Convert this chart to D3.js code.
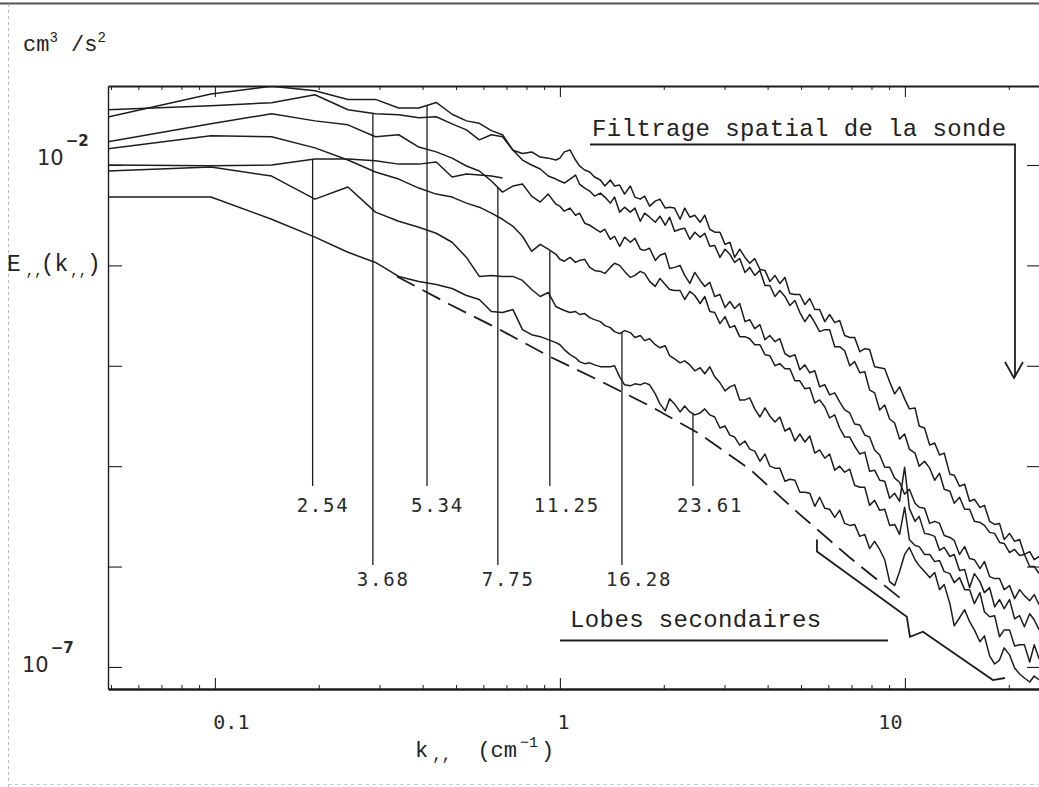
<!DOCTYPE html>
<html><head><meta charset="utf-8">
<script src="https://cdn.jsdelivr.net/npm/d3@7"></script>
<style>
html,body{margin:0;padding:0;background:#fff;}
svg{display:block;}
.mono{font-family:"Liberation Mono","DejaVu Sans Mono",monospace;fill:#222;}
.plot{font-family:"DejaVu Sans Mono","Liberation Mono",monospace;fill:#2a2a2a;}
.sans{font-family:"DejaVu Sans","Liberation Sans",sans-serif;fill:#2a2a2a;}
</style></head>
<body>
<svg id="chart" width="1039" height="787"></svg>
<script>
// Longitudinal energy spectra E(k) [cm^3/s^2] vs wavenumber k [cm^-1], one per run.
// Low wavenumbers: [k, E] pairs at the analysis bins.
const spec_2_54_low = [[0.049,1.0e-2],[0.0974,9.8e-3],[0.146,1.0e-2],[0.195,1.15e-2],[0.243,1.15e-2],[0.292,1.10e-2],[0.341,1.02e-2],[0.390,1.02e-2],[0.438,1.07e-2],[0.487,7.59e-3],[0.536,8.13e-3],[0.584,7.94e-3],[0.633,7.76e-3],[0.682,7.41e-3]];
const spec_3_68_low = [[0.049,3.55e-2],[0.0974,3.89e-2],[0.146,4.17e-2],[0.195,5.01e-2],[0.243,3.55e-2],[0.292,3.24e-2],[0.341,3.16e-2],[0.390,2.95e-2],[0.438,3.02e-2],[0.487,2.57e-2],[0.536,2.24e-2],[0.584,1.78e-2],[0.633,2.0e-2],[0.682,1.91e-2],[0.731,1.41e-2],[0.779,1.12e-2],[0.828,1.0e-2],[0.877,9.12e-3],[0.925,7.76e-3],[0.974,7.24e-3]];
const spec_5_34_low = [[0.049,3.0e-2],[0.0974,5.1e-2],[0.146,6.1e-2],[0.195,5.5e-2],[0.243,4.5e-2],[0.292,4.5e-2],[0.341,3.7e-2],[0.390,3.7e-2],[0.438,4.2e-2],[0.487,3.2e-2],[0.536,2.75e-2],[0.584,2.6e-2],[0.633,2.2e-2],[0.682,2.0e-2],[0.731,1.4e-2],[0.779,1.3e-2],[0.828,1.35e-2],[0.877,1.2e-2],[0.925,1.17e-2],[0.974,1.12e-2]];
const spec_7_75_low = [[0.049,1.70e-2],[0.0974,2.57e-2],[0.146,3.24e-2],[0.195,2.75e-2],[0.243,2.51e-2],[0.292,1.91e-2],[0.341,2.0e-2],[0.390,1.51e-2],[0.438,1.35e-2],[0.487,1.17e-2],[0.536,9.77e-3],[0.584,8.71e-3],[0.633,6.92e-3],[0.682,5.37e-3],[0.731,6.17e-3],[0.779,6.46e-3],[0.828,4.90e-3],[0.877,4.27e-3],[0.925,5.13e-3],[0.974,4.07e-3]];
const spec_11_25_low = [[0.049,1.45e-2],[0.0974,1.95e-2],[0.146,1.91e-2],[0.195,1.48e-2],[0.243,1.12e-2],[0.292,8.51e-3],[0.341,7.24e-3],[0.390,5.89e-3],[0.438,5.13e-3],[0.487,4.79e-3],[0.536,4.17e-3],[0.584,3.80e-3],[0.633,3.31e-3],[0.682,2.88e-3],[0.731,2.45e-3],[0.779,1.95e-3],[0.828,1.38e-3],[0.877,1.62e-3],[0.925,1.45e-3],[0.974,1.29e-3]];
const spec_16_28_low = [[0.049,8.71e-3],[0.0974,9.55e-3],[0.146,7.76e-3],[0.195,4.57e-3],[0.243,6.03e-3],[0.292,3.39e-3],[0.341,2.75e-3],[0.390,2.40e-3],[0.438,2.09e-3],[0.487,1.70e-3],[0.536,1.20e-3],[0.584,7.76e-4],[0.633,7.94e-4],[0.682,7.76e-4],[0.731,7.76e-4],[0.779,7.08e-4],[0.828,5.75e-4],[0.877,4.90e-4],[0.925,5.37e-4],[0.974,3.89e-4]];
const spec_23_61_low = [[0.049,4.79e-3],[0.0974,4.79e-3],[0.146,2.88e-3],[0.195,1.91e-3],[0.243,1.35e-3],[0.292,1.07e-3],[0.341,7.76e-4],[0.390,6.92e-4],[0.438,6.46e-4],[0.487,5.89e-4],[0.536,5.01e-4],[0.584,4.57e-4],[0.633,3.47e-4],[0.682,3.39e-4],[0.731,3.63e-4],[0.779,2.29e-4],[0.828,2.04e-4],[0.877,1.95e-4],[0.925,1.82e-4],[0.974,1.70e-4]];

// High wavenumbers: E read on a common k grid
const kGrid = [1.00,1.03,1.07,1.11,1.14,1.18,1.22,1.26,1.31,1.35,1.40,1.44,1.49,1.54,1.60,1.65,1.71,1.76,1.82,1.89,1.95,2.02,2.08,2.15,2.23,2.30,2.38,2.46,2.55,2.63,2.72,2.81,2.91,3.01,3.11,3.21,3.32,3.44,3.55,3.67,3.80,3.93,4.06,4.20,4.34,4.49,4.64,4.80,4.96,5.13,5.30,5.48,5.66,5.86,6.05,6.26,6.47,6.69,6.92,7.15,7.40,7.65,7.90,8.17,8.45,8.74,9.03,9.34,9.65,9.98,10.3,10.7,11.0,11.4,11.8,12.2,12.6,13.0,13.5,13.9,14.4,14.9,15.4,15.9,16.5,17.0,17.6,18.2,18.8,19.4,20.1,20.8,21.5,22.2,23.0,23.7,24.5];

const spec_3_68_high = [6.92e-3,6.61e-3,7.24e-3,7.94e-3,6.46e-3,5.89e-3,5.50e-3,4.90e-3,5.25e-3,4.79e-3,4.17e-3,4.79e-3,3.39e-3,3.80e-3,3.39e-3,3.72e-3,2.75e-3,3.31e-3,3.02e-3,2.69e-3,3.09e-3,2.51e-3,3.02e-3,2.19e-3,2.29e-3,2.34e-3,1.82e-3,2.14e-3,1.91e-3,2.09e-3,1.55e-3,1.58e-3,1.20e-3,1.45e-3,1.29e-3,1.07e-3,1.17e-3,8.51e-4,9.55e-4,7.94e-4,8.91e-4,6.31e-4,6.31e-4,4.90e-4,5.62e-4,4.90e-4,3.98e-4,4.47e-4,3.39e-4,2.75e-4,3.24e-4,2.69e-4,2.19e-4,2.29e-4,2.29e-4,1.55e-4,1.55e-4,1.41e-4,1.0e-4,1.10e-4,8.51e-5,8.71e-5,5.75e-5,5.37e-5,3.63e-5,4.07e-5,2.95e-5,2.69e-5,1.86e-5,2.09e-5,1.48e-5,1.35e-5,1.0e-5,1.12e-5,9.55e-6,7.24e-6,8.51e-6,5.89e-6,5.62e-6,4.27e-6,4.90e-6,3.72e-6,3.72e-6,2.82e-6,2.75e-6,2.57e-6,2.19e-6,2.14e-6,1.74e-6,1.70e-6,1.38e-6,1.48e-6,1.29e-6,1.32e-6,1.0e-6,1.0e-6,8.51e-7];
const spec_5_34_high = [1.17e-2,1.35e-2,1.41e-2,1.12e-2,9.8e-3,8.91e-3,8.51e-3,7.59e-3,7.08e-3,6.17e-3,7.08e-3,6.17e-3,6.31e-3,5.13e-3,6.17e-3,4.79e-3,4.57e-3,4.90e-3,3.89e-3,4.37e-3,4.57e-3,3.72e-3,3.80e-3,3.72e-3,2.88e-3,3.72e-3,3.02e-3,3.16e-3,2.69e-3,3.16e-3,2.29e-3,2.14e-3,2.14e-3,1.62e-3,1.70e-3,1.20e-3,1.45e-3,1.20e-3,1.05e-3,1.17e-3,9.12e-4,8.91e-4,6.92e-4,7.94e-4,6.61e-4,7.59e-4,5.25e-4,5.13e-4,5.13e-4,4.07e-4,4.68e-4,3.63e-4,3.63e-4,2.75e-4,3.24e-4,2.69e-4,2.82e-4,2.0e-4,1.91e-4,1.91e-4,1.38e-4,1.48e-4,1.45e-4,9.77e-5,9.55e-5,9.33e-5,6.92e-5,5.25e-5,6.17e-5,4.68e-5,3.72e-5,3.80e-5,2.51e-5,2.40e-5,1.62e-5,1.70e-5,1.29e-5,1.35e-5,8.32e-6,8.13e-6,6.31e-6,6.61e-6,4.47e-6,4.68e-6,3.89e-6,4.07e-6,2.82e-6,2.63e-6,2.69e-6,1.86e-6,2.14e-6,1.78e-6,1.86e-6,1.32e-6,1.41e-6,1.17e-6,1.26e-6];
const spec_7_75_high = [3.89e-3,3.47e-3,3.72e-3,3.16e-3,3.31e-3,2.63e-3,2.51e-3,2.34e-3,2.14e-3,2.29e-3,1.82e-3,1.95e-3,1.55e-3,1.91e-3,1.70e-3,1.86e-3,1.45e-3,1.41e-3,1.48e-3,1.12e-3,1.26e-3,1.32e-3,9.33e-4,9.55e-4,1.0e-3,7.94e-4,6.61e-4,8.51e-4,7.08e-4,6.17e-4,6.76e-4,4.90e-4,5.13e-4,3.80e-4,4.37e-4,3.72e-4,4.17e-4,2.75e-4,2.88e-4,2.34e-4,2.57e-4,1.82e-4,2.0e-4,1.74e-4,1.86e-4,1.32e-4,1.23e-4,1.29e-4,9.12e-5,1.02e-4,8.51e-5,8.91e-5,6.17e-5,6.46e-5,5.13e-5,5.37e-5,4.37e-5,3.63e-5,3.39e-5,2.63e-5,2.57e-5,2.04e-5,1.95e-5,1.45e-5,1.29e-5,9.77e-6,9.77e-6,7.59e-6,6.92e-6,5.25e-6,5.89e-6,4.27e-6,3.89e-6,3.80e-6,2.69e-6,2.82e-6,2.69e-6,2.04e-6,1.95e-6,1.82e-6,1.32e-6,1.58e-6,1.20e-6,1.17e-6,9.55e-7,1.12e-6,7.94e-7,7.59e-7,7.59e-7,5.89e-7,6.46e-7,4.79e-7,5.89e-7,5.13e-7,4.57e-7,5.25e-7,4.17e-7];
const spec_11_25_high = [1.15e-3,1.10e-3,1.20e-3,1.07e-3,1.12e-3,1.15e-3,9.55e-4,8.91e-4,8.71e-4,8.32e-4,9.55e-4,1.05e-3,1.0e-3,8.71e-4,7.59e-4,7.94e-4,8.71e-4,8.32e-4,6.92e-4,6.17e-4,7.41e-4,6.46e-4,5.75e-4,5.62e-4,5.62e-4,4.57e-4,5.50e-4,5.01e-4,4.17e-4,4.90e-4,3.47e-4,3.39e-4,2.63e-4,3.09e-4,2.40e-4,2.51e-4,1.95e-4,1.95e-4,1.86e-4,1.62e-4,1.62e-4,1.29e-4,1.26e-4,1.0e-4,1.05e-4,9.33e-5,9.33e-5,7.08e-5,7.08e-5,5.89e-5,6.03e-5,4.27e-5,4.57e-5,3.89e-5,3.02e-5,3.24e-5,2.40e-5,1.95e-5,1.95e-5,1.58e-5,1.32e-5,1.38e-5,8.91e-6,9.12e-6,7.24e-6,7.08e-6,4.79e-6,5.37e-6,4.47e-6,9.77e-6,3.80e-6,2.82e-6,3.16e-6,2.14e-6,2.09e-6,2.0e-6,1.45e-6,1.55e-6,1.26e-6,1.32e-6,9.12e-7,9.33e-7,6.17e-7,8.51e-7,7.08e-7,5.50e-7,6.17e-7,3.98e-7,4.68e-7,3.80e-7,4.68e-7,3.02e-7,3.24e-7,2.51e-7,3.39e-7,2.95e-7,2.34e-7];
const spec_16_28_high = [3.72e-4,3.55e-4,3.39e-4,3.47e-4,3.24e-4,3.31e-4,3.02e-4,2.88e-4,2.75e-4,2.51e-4,2.40e-4,2.19e-4,2.09e-4,2.24e-4,2.14e-4,1.91e-4,2.0e-4,1.78e-4,1.86e-4,1.62e-4,1.51e-4,1.58e-4,1.26e-4,1.17e-4,1.07e-4,1.12e-4,1.02e-4,8.91e-5,9.55e-5,8.32e-5,9.77e-5,7.76e-5,6.76e-5,5.62e-5,6.17e-5,6.46e-5,4.57e-5,4.57e-5,4.79e-5,3.72e-5,3.09e-5,3.80e-5,3.16e-5,2.75e-5,3.09e-5,2.24e-5,2.40e-5,1.78e-5,2.09e-5,1.74e-5,2.0e-5,1.35e-5,1.45e-5,1.20e-5,1.32e-5,9.12e-6,1.0e-5,8.71e-6,9.33e-6,6.46e-6,6.17e-6,6.17e-6,4.07e-6,4.57e-6,3.63e-6,3.72e-6,2.57e-6,2.63e-6,2.09e-6,3.89e-6,1.86e-6,1.62e-6,1.58e-6,1.32e-6,1.32e-6,1.12e-6,1.15e-6,8.91e-7,8.51e-7,6.92e-7,7.76e-7,5.89e-7,5.89e-7,4.27e-7,5.50e-7,3.55e-7,3.16e-7,3.24e-7,2.0e-7,2.34e-7,2.34e-7,1.62e-7,1.66e-7,1.66e-7,1.12e-7,1.66e-7,1.20e-7];
const spec_23_61_high = [1.62e-4,1.45e-4,1.29e-4,1.20e-4,1.10e-4,1.05e-4,1.07e-4,1.02e-4,9.8e-5,9.77e-5,9.8e-5,1.0e-4,7.76e-5,6.46e-5,6.31e-5,6.61e-5,6.46e-5,6.76e-5,6.46e-5,5.25e-5,4.17e-5,3.55e-5,4.68e-5,4.17e-5,3.47e-5,3.98e-5,3.47e-5,3.24e-5,3.39e-5,3.72e-5,3.24e-5,3.09e-5,2.40e-5,2.51e-5,2.04e-5,1.95e-5,1.62e-5,1.78e-5,1.48e-5,1.41e-5,1.12e-5,1.32e-5,1.0e-5,9.55e-6,9.55e-6,7.08e-6,7.41e-6,7.24e-6,5.50e-6,5.50e-6,5.37e-6,3.98e-6,4.90e-6,3.80e-6,3.72e-6,3.09e-6,3.63e-6,2.69e-6,2.57e-6,2.63e-6,2.0e-6,2.09e-6,1.51e-6,1.78e-6,1.48e-6,1.17e-6,7.08e-7,6.46e-7,8.91e-7,1.32e-6,1.55e-6,1.17e-6,1.02e-6,8.91e-7,7.76e-7,8.71e-7,5.89e-7,6.61e-7,4.27e-7,2.57e-7,3.09e-7,3.72e-7,2.82e-7,2.34e-7,1.78e-7,2.04e-7,1.29e-7,1.07e-7,1.17e-7,1.55e-7,1.32e-7,9.77e-8,8.51e-8,7.76e-8,7.08e-8,8.13e-8,7.41e-8];

// Probe response: main-lobe model (dashed) and side-lobe envelope (solid)
const lobeModel = [[0.337,7.76e-4],[0.480,4.07e-4],[0.670,2.29e-4],[0.936,1.23e-4],[1.306,7.08e-5],[1.823,3.98e-5],[2.545,2.09e-5],[3.552,9.33e-6],[4.957,3.31e-6],[6.918,1.23e-6],[9.654,4.90e-7]];
const lobeEnvelope = [[5.56,1.86e-6],[5.56,1.41e-6],[10.13,3.16e-7],[10.34,2.0e-7],[11.28,2.24e-7],[17.99,7.41e-8],[19.49,7.76e-8]];

// Run labels and the wavenumber where each label's leader meets its curve
const runLabels = ["2.54","3.68","5.34","7.75","11.25","16.28","23.61"];
const labelK = [0.192, 0.287, 0.412, 0.661, 0.935, 1.513, 2.43];

// Axis ticks
const xMajor = [0.1, 1, 10];
const xMajorLabels = ["0.1", "1", "10"];
const xMinor = [0.05,0.06,0.07,0.08,0.09,0.2,0.3,0.4,0.5,0.6,0.7,0.8,0.9,2,3,4,5,6,7,8,9,20];
const yMajor = [1e-2, 1e-3, 1e-4, 1e-5, 1e-6, 1e-7];

const onGrid = vals => kGrid.map((k,i) => [k, vals[i]]);
const runSeries = [
  spec_2_54_low,
  spec_3_68_low.concat(onGrid(spec_3_68_high)),
  spec_5_34_low.concat(onGrid(spec_5_34_high)),
  spec_7_75_low.concat(onGrid(spec_7_75_high)),
  spec_11_25_low.concat(onGrid(spec_11_25_high)),
  spec_16_28_low.concat(onGrid(spec_16_28_high)),
  spec_23_61_low.concat(onGrid(spec_23_61_high))
];

const svg = d3.select("#chart");
const ink = "#1d1d1d";

const x = d3.scaleLog().domain([0.049, 24.8]).range([108, 1041]);
const y = d3.scaleLog().domain([6.03e-8, 6.12e-2]).range([689, 86]);

// edges of the sheet
svg.append("line").attr("x1",0).attr("x2",1039).attr("y1",3.5).attr("y2",3.5).attr("stroke","#555").attr("stroke-width",2);
svg.append("line").attr("x1",8.5).attr("x2",8.5).attr("y1",4).attr("y2",787).attr("stroke","#bbb").attr("stroke-width",1).attr("stroke-dasharray","3,3");
svg.append("line").attr("x1",8).attr("x2",1039).attr("y1",784.5).attr("y2",784.5).attr("stroke","#ccc").attr("stroke-width",1).attr("stroke-dasharray","4,3");

svg.append("clipPath").attr("id","plotArea").append("rect")
  .attr("x",108).attr("y",86).attr("width",933).attr("height",603);

function styleAxis(g, w){
  g.select(".domain").attr("stroke",ink).attr("stroke-width",w);
  g.selectAll(".tick line").attr("stroke",ink).attr("stroke-width",1.1);
}

// bottom axis
const gBm = svg.append("g").attr("transform","translate(0,689)")
  .call(d3.axisBottom(x).tickValues(xMinor).tickSize(-4).tickSizeOuter(0).tickFormat(""));
gBm.select(".domain").remove();
gBm.selectAll(".tick line").attr("stroke",ink).attr("stroke-width",1);
const gB = svg.append("g").attr("transform","translate(0,689)")
  .call(d3.axisBottom(x).tickValues(xMajor).tickSize(-11).tickSizeOuter(0).tickFormat((d,i)=>xMajorLabels[i]));
styleAxis(gB, 2.4);
const xLabelDx = [16, 3, -15];
gB.selectAll(".tick text").attr("class","plot").attr("font-size",20).attr("y",40).attr("dy",0)
  .attr("dx",(d,i)=>xLabelDx[i]).attr("fill","#2a2a2a");

// top axis
const gTm = svg.append("g").attr("transform","translate(0,86)")
  .call(d3.axisTop(x).tickValues(xMinor).tickSize(-4).tickSizeOuter(0).tickFormat(""));
gTm.select(".domain").remove();
gTm.selectAll(".tick line").attr("stroke",ink).attr("stroke-width",1);
const gT = svg.append("g").attr("transform","translate(0,86)")
  .call(d3.axisTop(x).tickValues(xMajor).tickSize(-11).tickSizeOuter(0).tickFormat(""));
styleAxis(gT, 2);

// left / right axes
const gL = svg.append("g").attr("transform","translate(108,0)")
  .call(d3.axisLeft(y).tickValues(yMajor).tickSize(-14).tickSizeOuter(0).tickFormat(""));
styleAxis(gL, 1.4);
const gR = svg.append("g").attr("transform","translate(1041,0)")
  .call(d3.axisRight(y).tickValues(yMajor).tickSize(-14).tickSizeOuter(0).tickFormat(""));
styleAxis(gR, 1.4);

// spectra
const line = d3.line().x(d=>x(d[0])).y(d=>y(d[1]));
const plot = svg.append("g").attr("clip-path","url(#plotArea)");
plot.selectAll("path.spec").data(runSeries).join("path").attr("class","spec")
  .attr("d",line).attr("fill","none").attr("stroke",ink).attr("stroke-width",1.5)
  .attr("stroke-linejoin","round");

plot.append("path").attr("d",line(lobeModel)).attr("fill","none").attr("stroke",ink)
  .attr("stroke-width",1.8).attr("stroke-dasharray","20,9");
plot.append("path").attr("d",line(lobeEnvelope)).attr("fill","none").attr("stroke",ink)
  .attr("stroke-width",1.8);

// leaders from each curve down to its run label
function valueAt(data, k){
  for(let i=1;i<data.length;i++){
    if(data[i][0] >= k){
      const a = data[i-1], b = data[i];
      const t = (Math.log(k)-Math.log(a[0]))/(Math.log(b[0])-Math.log(a[0]));
      return Math.exp(Math.log(a[1]) + t*(Math.log(b[1])-Math.log(a[1])));
    }
  }
  return data[data.length-1][1];
}
const rowLineEnd = [486, 565];
const rowText = [512, 586];
runLabels.forEach((lab,i)=>{
  const row = i % 2;
  const lx = x(labelK[i]);
  svg.append("line").attr("x1",lx).attr("x2",lx)
    .attr("y1",y(valueAt(runSeries[i], labelK[i]))).attr("y2",rowLineEnd[row])
    .attr("stroke",ink).attr("stroke-width",1.3);
  svg.append("text").attr("class","plot").attr("x",lx-16).attr("y",rowText[row])
    .attr("font-size",19).attr("letter-spacing",1.8).text(lab);
});

// y-axis decade labels
function decadeLabel(xp, yp, exp){
  const t = svg.append("text").attr("class","sans").attr("x",xp).attr("y",yp).attr("font-size",21);
  t.append("tspan").text("10");
  t.append("tspan").attr("font-size",15).attr("dy",-19).attr("dx",2).attr("font-weight","bold").text("\u2212" + exp);
}
decadeLabel(37, 165, "2");
decadeLabel(22, 672, "7");

// unit and axis titles
const unit = svg.append("text").attr("class","mono").attr("x",23).attr("y",51).attr("font-size",22);
unit.append("tspan").text("cm");
unit.append("tspan").attr("font-size",14).attr("dy",-9).text("3");
unit.append("tspan").attr("dy",9).text(" /s");
unit.append("tspan").attr("font-size",14).attr("dy",-9).text("2");

const eTitle = svg.append("text").attr("class","mono").attr("x",7).attr("y",y(1e-3)+6).attr("font-size",23);
eTitle.append("tspan").text("E");
eTitle.append("tspan").attr("font-size",14).attr("dx",5).attr("dy",4).text(",,");
eTitle.append("tspan").attr("dx",-2).attr("dy",-4).text("(k");
eTitle.append("tspan").attr("font-size",14).attr("dx",2).attr("dy",4).text(",,");
eTitle.append("tspan").attr("dy",-4).text(")");

const kTitle = svg.append("text").attr("class","mono").attr("x",415).attr("y",757).attr("font-size",22);
kTitle.append("tspan").text("k");
kTitle.append("tspan").attr("font-size",16).attr("dx",4).attr("dy",3).text(",,");
kTitle.append("tspan").attr("dx",26).attr("dy",-3).text("(cm");
kTitle.append("tspan").attr("font-size",15).attr("dx",3).attr("dy",-10).text("\u22121");
kTitle.append("tspan").attr("dx",3).attr("dy",10).text(")");

// annotations
svg.append("text").attr("class","mono").attr("x",592).attr("y",136).attr("font-size",24)
  .attr("letter-spacing",0.4).text("Filtrage spatial de la sonde");
svg.append("path").attr("d","M590,144.5 H1015 V377").attr("fill","none").attr("stroke",ink).attr("stroke-width",1.8);
svg.append("path").attr("d","M1005,362 L1014,378 L1023,362").attr("fill","none").attr("stroke",ink).attr("stroke-width",1.8);

svg.append("text").attr("class","mono").attr("x",570).attr("y",627).attr("font-size",24)
  .attr("letter-spacing",0.4).text("Lobes secondaires");
svg.append("line").attr("x1",560).attr("x2",888).attr("y1",640.5).attr("y2",640.5).attr("stroke",ink).attr("stroke-width",1.8);
</script>
</body></html>
